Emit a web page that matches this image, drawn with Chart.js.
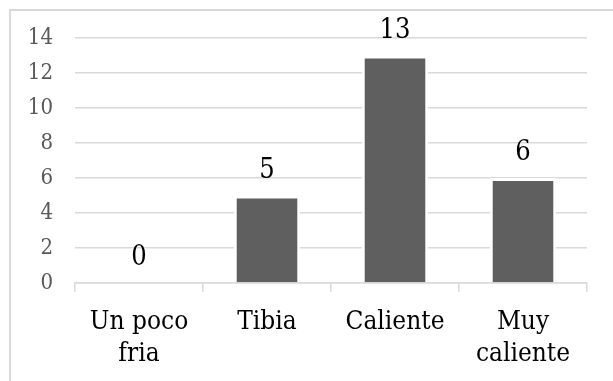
<!DOCTYPE html>
<html>
<head>
<meta charset="utf-8">
<script src="https://cdn.jsdelivr.net/npm/chart.js@4"></script>
<style>
  body { margin: 0; background: #fff; }
  #wrap { position: relative; width: 613px; height: 381px; overflow: hidden; }
  #frame { position: absolute; left: 9px; top: 9px; width: 700px; height: 500px; border: 2px solid #d9d9d9; box-sizing: border-box; }
  canvas { position: absolute; left: 0; top: 0; }
</style>
</head>
<body>
<div id="wrap">
  <div id="frame"></div>
  <canvas id="tempChart" width="613" height="381"></canvas>
</div>
<script>
// --- DATA ---
const categories = [['Un poco', 'fria'], 'Tibia', 'Caliente', ['Muy', 'caliente']];
const counts = [0, 5, 13, 6];
const yTicks = [0, 2, 4, 6, 8, 10, 12, 14];

const serif = '"DejaVu Serif Condensed", "DejaVu Serif", serif';

// labels above the bars
const valueLabels = {
    id: 'valueLabels',
    afterDatasetsDraw(chart) {
        const ctx = chart.ctx;
        const meta = chart.getDatasetMeta(0);
        ctx.save();
        ctx.font = '27px ' + serif;
        ctx.fillStyle = '#000';
        ctx.textAlign = 'center';
        ctx.textBaseline = 'alphabetic';
        meta.data.forEach((bar, i) => {
            ctx.fillText(String(counts[i]), bar.x, bar.y - 18);
        });
        ctx.restore();
    }
};

function renderChart() {
    const ctx = document.getElementById('tempChart').getContext('2d');
    new Chart(ctx, {
        type: 'bar',
        data: {
            labels: categories,
            datasets: [{
                data: counts,
                backgroundColor: '#5f5f5f',
                borderColor: '#ffffff',
                borderWidth: 3,
                borderSkipped: 'bottom',
                categoryPercentage: 1,
                barPercentage: 0.52
            }]
        },
        options: {
            responsive: false,
            animation: false,
            layout: { padding: { top: 38, right: 26, bottom: 0, left: 0 } },
            plugins: { legend: { display: false }, tooltip: { enabled: false } },
            scales: {
                x: {
                    grid: { offset: true, drawOnChartArea: false, drawTicks: true, tickLength: 9, color: '#d9d9d9', lineWidth: 1.5 },
                    border: { color: '#d9d9d9', width: 1.5 },
                    ticks: { color: '#000', padding: 14, maxRotation: 0, font: { family: serif, size: 26, lineHeight: 1.24 } },
                    afterFit(scale) { scale.height = 98; }
                },
                y: {
                    min: 0,
                    max: 14,
                    afterBuildTicks(scale) { scale.ticks = yTicks.map(v => ({ value: v })); },
                    grid: { color: '#d9d9d9', lineWidth: 1.5, drawTicks: false },
                    border: { display: false },
                    ticks: { color: '#595959', padding: 22, font: { family: serif, size: 22 } },
                    afterFit(scale) { scale.width = 75; }
                }
            }
        },
        plugins: [valueLabels]
    });
}

renderChart();
</script>
</body>
</html>
